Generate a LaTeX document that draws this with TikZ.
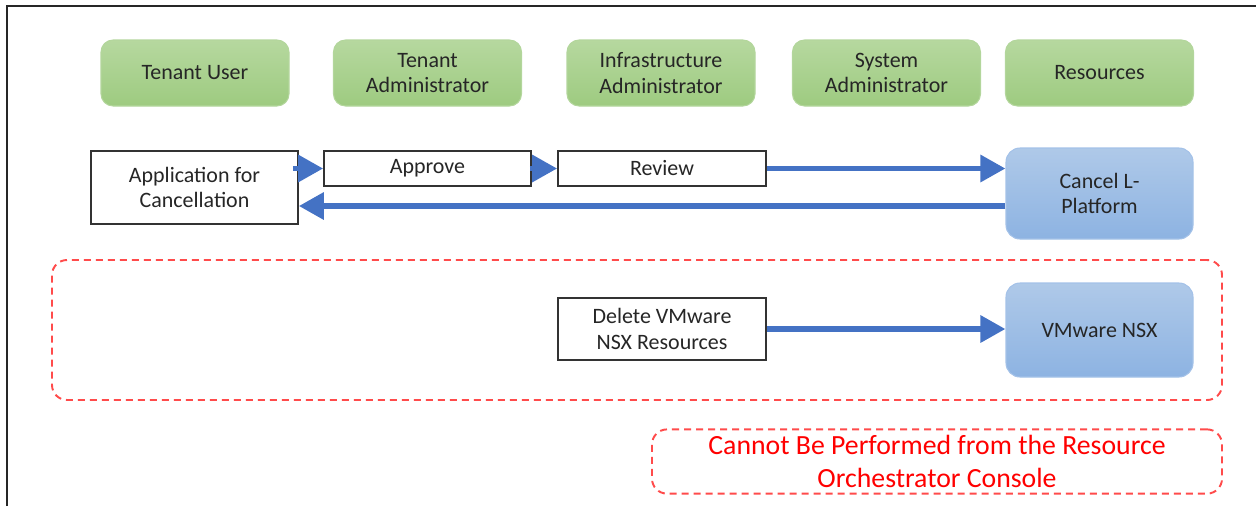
\documentclass[tikz,border=0pt]{standalone}
\usepackage{fontspec}
\setmainfont{Carlito}
\usetikzlibrary{arrows.meta}
\definecolor{rolegreen}{HTML}{A9D18E}
\definecolor{rolegreendark}{HTML}{93C572}
\definecolor{resblue}{HTML}{A6C3E6}
\definecolor{resbluedark}{HTML}{8DB3E2}
\definecolor{flowblue}{HTML}{4472C4}
\definecolor{warnred}{HTML}{FF4B4B}
\tikzset{
  role/.style={draw=rolegreendark!70, line width=0.6pt, rounded corners=0.24cm,
    top color=rolegreen!85, bottom color=rolegreendark!90, align=center,
    minimum width=3.76cm, minimum height=1.32cm, text=black!85,
    font=\fontsize{12.5}{14.5}\selectfont},
  task/.style={draw=black!80, line width=0.9pt, fill=white, align=center,
    minimum width=4.14cm, text=black!85, font=\fontsize{12.5}{14.5}\selectfont},
  res/.style={draw=resbluedark!80, line width=0.6pt, rounded corners=0.28cm,
    top color=resblue!90, bottom color=resbluedark, align=center,
    minimum width=3.74cm, text=black!85, font=\fontsize{12.5}{14.5}\selectfont},
  flow/.style={draw=flowblue, line width=3.4pt,
    -{Triangle[length=0.5cm, width=0.52cm]}},
  redbox/.style={draw=warnred, line width=1.1pt, dash pattern=on 0.14cm off 0.1cm,
    rounded corners=0.3cm},
}
\begin{document}
\begin{tikzpicture}
  \useasboundingbox (0,0) rectangle (25.12,-10.12);
  % frame
  \draw [line width=1.2pt, black!85] (0.14,-10.12) -- (0.14,-0.12) -- (25.12,-0.12);

  % roles
  \node [role] (tuser) at (3.90,-1.46)                     {Tenant User};
  \node [role] (tadm)  at ([shift={(4.65,0)}] tuser)       {Tenant\\Administrator};
  \node [role] (iadm)  at ([shift={(4.67,0)}] tadm)        {Infrastructure\\Administrator};
  \node [role] (sadm)  at ([shift={(4.51,0)}] iadm)        {System\\Administrator};
  \node [role] (resrc) at ([shift={(4.26,0)}] sadm)        {Resources};

  % cancellation flow
  \node [task, minimum height=1.46cm] (apply)   at (3.89,-3.75)       {Application for\\Cancellation};
  \node [task, minimum height=0.70cm] (approve) at (8.55,-3.37)       {Approve};
  \node [task, minimum height=0.70cm, minimum width=4.16cm] (review) at (13.24,-3.37) {Review};
  \node [res, minimum height=1.82cm]  (cancel)  at (21.99,-3.87)      {Cancel L-\\Platform};

  \draw [flow] ([xshift=-0.12cm] apply.east |- approve.west) -- (approve.west);
  \draw [flow] ([xshift=-0.04cm] approve.east) -- (review.west);
  \draw [flow] (review.east) -- (cancel.west |- review.east);
  \coordinate (back) at ([yshift=-0.25cm] cancel.west);
  \draw [flow] (back) -- (apply.east |- back);

  % outside the console
  \node [redbox, minimum width=23.4cm, minimum height=2.8cm] (outside) at (12.74,-6.60) {};
  \node [task, minimum height=1.24cm, minimum width=4.16cm] (delnsx) at (13.24,-6.58) {Delete VMware\\NSX Resources};
  \node [res, minimum height=1.88cm] (nsx) at (21.99,-6.60) {VMware NSX};
  \draw [flow] (delnsx.east) -- (nsx.west |- delnsx.east);

  \node [redbox, minimum width=11.4cm, minimum height=1.26cm, text=red, align=center,
    font=\fontsize{15.8}{18.8}\selectfont] (note) at (18.74,-9.23)
    {Cannot Be Performed from the Resource\\Orchestrator Console};
\end{tikzpicture}
\end{document}
